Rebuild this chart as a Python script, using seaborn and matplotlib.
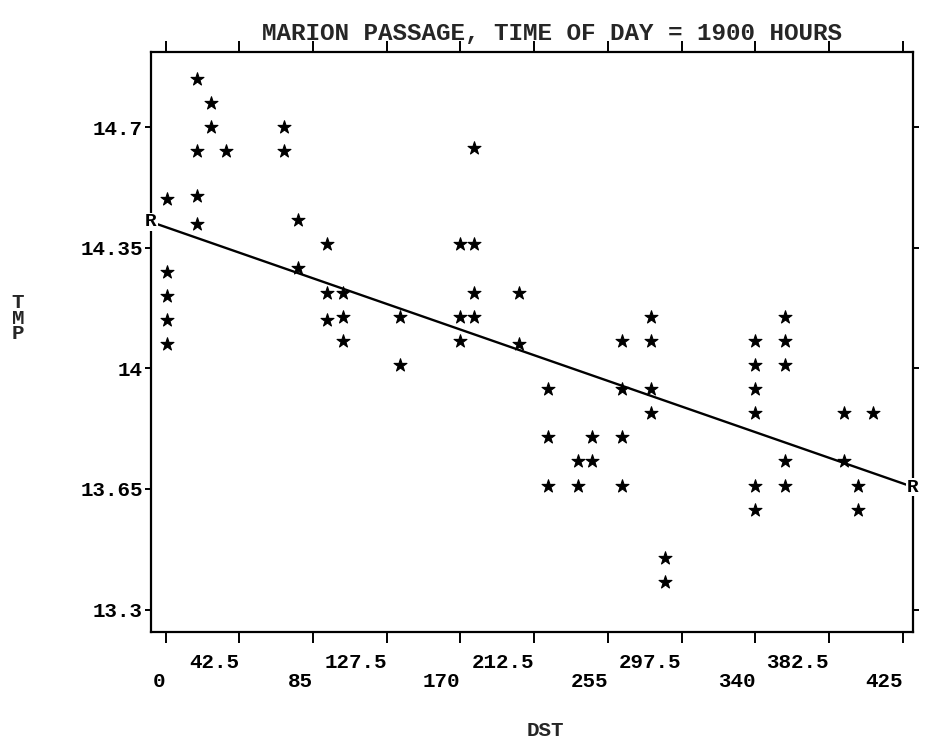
import numpy as np
import pandas as pd
import matplotlib
matplotlib.use("Agg")
import matplotlib.pyplot as plt
import matplotlib.transforms as mtransforms
import seaborn as sns

# ---- data ----
dst = [1, 1, 1, 1, 1,
       18, 18, 18, 18,
       26, 26,
       35,
       68, 68,
       76.5, 76.5,
       93, 93, 93,
       102, 102, 102,
       135, 135,
       169.5, 169.5, 169.5,
       178, 178, 178, 178,
       203.5, 203.5,
       220.5, 220.5, 220.5,
       237.5, 237.5,
       246, 246,
       263, 263, 263, 263,
       280, 280, 280, 280,
       288, 288,
       340, 340, 340, 340, 340, 340,
       357, 357, 357, 357, 357,
       391, 391,
       408,
       399.5, 399.5]
tmp = [14.07, 14.14, 14.21, 14.28, 14.49,
       14.42, 14.50, 14.63, 14.84,
       14.70, 14.77,
       14.63,
       14.70, 14.63,
       14.43, 14.29,
       14.36, 14.22, 14.14,
       14.22, 14.15, 14.08,
       14.15, 14.01,
       14.36, 14.15, 14.08,
       14.64, 14.36, 14.22, 14.15,
       14.22, 14.07,
       13.94, 13.80, 13.66,
       13.73, 13.66,
       13.80, 13.73,
       13.94, 13.80, 13.66, 14.08,
       14.15, 14.08, 13.94, 13.87,
       13.45, 13.38,
       13.87, 13.94, 14.01, 14.08, 13.66, 13.59,
       14.15, 14.08, 14.01, 13.73, 13.66,
       13.87, 13.73,
       13.87,
       13.66, 13.59]

fit_intercept = 14.41
fit_slope = -0.00175

x_ticks = [0, 42.5, 85, 127.5, 170, 212.5, 255, 297.5, 340, 382.5, 425]
x_tick_labels = ["0", "42.5", "85", "127.5", "170", "212.5", "255", "297.5", "340", "382.5", "425"]
y_ticks = [13.3, 13.65, 14.0, 14.35, 14.7]
y_tick_labels = ["13.3", "13.65", "14", "14.35", "14.7"]

title = "MARION PASSAGE, TIME OF DAY = 1900 HOURS"
x_label = "DST"
y_label = "T\nM\nP"

# ---- styling ----
sns.set_style("white")
plt.rcParams["font.family"] = ["Liberation Mono", "DejaVu Sans Mono"]
plt.rcParams["font.weight"] = "bold"

W, H = 926, 742
fig = plt.figure(figsize=(W / 100, H / 100), dpi=100)
left, right, top, bottom = 151, 913, 52, 632
ax = fig.add_axes([left / W, 1 - bottom / H, (right - left) / W, (bottom - top) / H])

xlim = (-8.5, 431)
ylim = (13.235, 14.918)

df = pd.DataFrame({"DST": dst, "TMP": tmp})
sns.scatterplot(data=df, x="DST", y="TMP", marker="*", s=95, color="black",
                edgecolor="black", linewidth=0.8, ax=ax, zorder=3)

fit_df = pd.DataFrame({"DST": list(xlim)})
fit_df["TMP"] = fit_intercept + fit_slope * fit_df["DST"]
sns.lineplot(data=fit_df, x="DST", y="TMP", color="black", linewidth=1.7, ax=ax, zorder=2)

for xv, yv in zip(fit_df["DST"], fit_df["TMP"]):
    ax.text(xv, yv, "R", ha="center", va="center", fontsize=14, fontweight="bold",
            color="black", clip_on=False, zorder=5,
            bbox=dict(facecolor="white", edgecolor="none", pad=0.5))

ax.set_xlim(*xlim)
ax.set_ylim(*ylim)

ax.set_xticks(x_ticks)
ax.set_xticklabels([lab if i % 2 == 1 else "\n" + lab for i, lab in enumerate(x_tick_labels)])
ax.set_yticks(y_ticks)
ax.set_yticklabels(y_tick_labels)
shift = mtransforms.ScaledTranslation(5 / 100, 0, fig.dpi_scale_trans)
for lab in ax.get_xticklabels():
    lab.set_linespacing(1.0)
    lab.set_horizontalalignment("right")
    lab.set_multialignment("right")
    lab.set_transform(lab.get_transform() + shift)

ax.tick_params(axis="x", which="both", direction="out", length=8, width=1.4,
               top=True, bottom=True, labeltop=False, labelsize=15, pad=7, colors="black")
ax.tick_params(axis="y", which="both", direction="out", length=4.5, width=1.4,
               left=True, right=True, labelright=False, labelsize=15, pad=1.5, colors="black")

for sp in ax.spines.values():
    sp.set_visible(True)
    sp.set_linewidth(1.6)
    sp.set_color("black")

ax.set_xlabel("")
ax.set_ylabel("")

fig.text(552 / W, 1 - 34 / H, title, ha="center", va="center", fontsize=17.5, fontweight="bold")
fig.text(545 / W, 1 - 731 / H, x_label, ha="center", va="center", fontsize=15, fontweight="bold")
fig.text(18 / W, 1 - 318 / H, y_label, ha="center", va="center", fontsize=15, fontweight="bold",
         linespacing=0.75)

fig.savefig("out.png", dpi=100, facecolor="white")
